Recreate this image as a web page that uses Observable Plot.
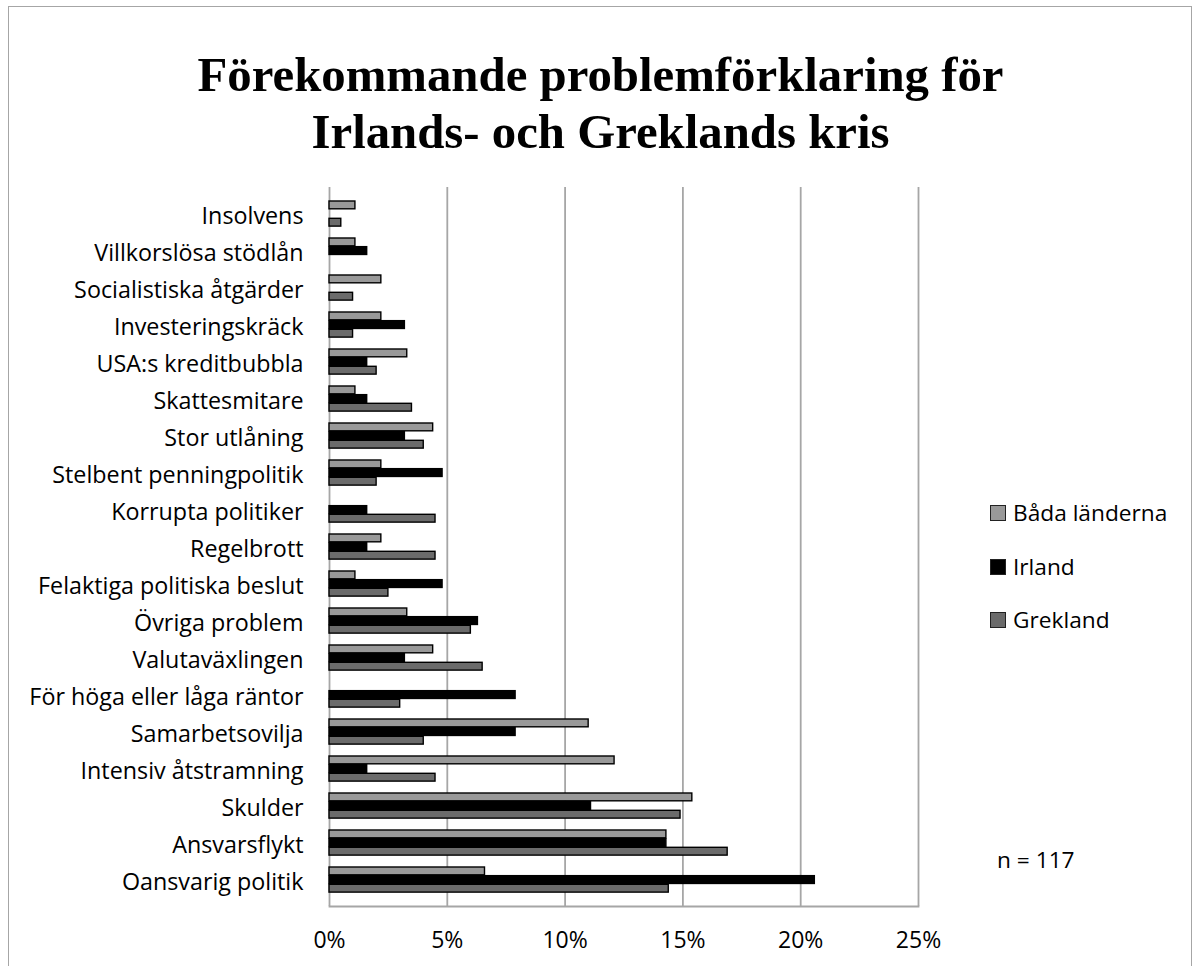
<!DOCTYPE html>
<html><head><meta charset="utf-8">
<script src="https://cdn.jsdelivr.net/npm/d3@7"></script>
<script src="https://cdn.jsdelivr.net/npm/@observablehq/plot@0.6"></script>
<style>
html,body{margin:0;padding:0;background:#fff;overflow:hidden;}
#wrap{position:relative;width:1201px;height:966px;overflow:hidden;}
#border{position:absolute;left:8px;top:6px;width:1184px;height:1000px;border:1.5px solid #a6a6a6;box-sizing:border-box;}
#title{position:absolute;left:0;width:1201px;top:47px;text-align:center;font-family:"Liberation Serif","Times New Roman",serif;font-weight:bold;font-size:48.8px;line-height:57px;color:#000;}
#chart{position:absolute;left:0;top:0;}
.leg{position:absolute;left:990px;font-family:"Open Sans",sans-serif;font-size:22.7px;color:#000;display:flex;align-items:center;white-space:nowrap;}
.sw{width:14px;height:14px;border:1px solid #222;margin-right:7px;}
#n{position:absolute;left:997px;top:844px;font-family:"Open Sans",sans-serif;font-size:22.7px;color:#000;}
</style></head>
<body>
<div id="wrap">
  <div id="border"></div>
  <div id="title">Förekommande problemförklaring för<br>Irlands- och Greklands kris</div>
  <div id="chart"></div>
  <div id="legend"></div>
  <div id="n">n = 117</div>
</div>
<script>
const categories = ["Insolvens","Villkorslösa stödlån","Socialistiska åtgärder","Investeringskräck","USA:s kreditbubbla","Skattesmitare","Stor utlåning","Stelbent penningpolitik","Korrupta politiker","Regelbrott","Felaktiga politiska beslut","Övriga problem","Valutaväxlingen","För höga eller låga räntor","Samarbetsovilja","Intensiv åtstramning","Skulder","Ansvarsflykt","Oansvarig politik"];
const series = ["Båda länderna","Irland","Grekland"];
const bodaLanderna = [1.1,1.1,2.2,2.2,3.3,1.1,4.4,2.2,0,2.2,1.1,3.3,4.4,0,11.0,12.1,15.4,14.3,6.6];
const irland = [0,1.6,0,3.2,1.6,1.6,3.2,4.8,1.6,1.6,4.8,6.3,3.2,7.9,7.9,1.6,11.1,14.3,20.6];
const grekland = [0.5,0,1.0,1.0,2.0,3.5,4.0,2.0,4.5,4.5,2.5,6.0,6.5,3.0,4.0,4.5,14.9,16.9,14.4];
const xTicks = [0,5,10,15,20,25];
const colors = ["#999999","#000000","#6b6b6b"];

const valuesBySeries = [bodaLanderna, irland, grekland];
const data = categories.flatMap((c,i)=>series.map((s,k)=>({cat:c, s, v:valuesBySeries[k][i]})));

const W = 1201, H = 966, mTop = 187, mBottom = 60, mLeft = 329, mRight = 283;
const step = (H - mTop - mBottom) / categories.length;
const groupTop = 6, barH = 8.65;

const barMarks = series.map((s,k)=>Plot.barX(data.filter(d=>d.s===s && d.v>0), {
  x:"v", y:"cat", fill: colors[k], stroke:"#000", strokeWidth:1.4,
  insetTop: groupTop + k*barH, insetBottom: step - groupTop - (k+1)*barH
}));

const chart = Plot.plot({
  width: W, height: H,
  marginTop: mTop, marginBottom: mBottom, marginLeft: mLeft, marginRight: mRight,
  style: {fontFamily: "'Open Sans', sans-serif", fontSize: "23px", color: "#000", background: "transparent"},
  x: {domain: [0,25]},
  y: {domain: categories, padding: 0},
  marks: [
    Plot.ruleX(xTicks, {stroke:"#a6a6a6", strokeWidth:1.8, strokeOpacity:1}),
    Plot.frame({anchor:"bottom", stroke:"#a6a6a6", strokeWidth:1.8}),
    ...barMarks,
    Plot.axisY({tickSize:0, tickPadding:26, label:null, dy:3, fontSize:23.3}),
    Plot.axisX({ticks:xTicks, tickFormat:d=>d+"%", tickSize:0, tickPadding:25, label:null, fontSize:23})
  ]
});
document.getElementById("chart").appendChild(chart);

const legend = document.getElementById("legend");
const legTops = [497, 551, 604];
series.forEach((s,k)=>{
  const item = document.createElement("div");
  item.className = "leg";
  item.style.top = legTops[k] + "px";
  const sw = document.createElement("div");
  sw.className = "sw";
  sw.style.background = colors[k];
  const t = document.createElement("span");
  t.textContent = s;
  item.appendChild(sw); item.appendChild(t);
  legend.appendChild(item);
});
</script>
</body></html>
